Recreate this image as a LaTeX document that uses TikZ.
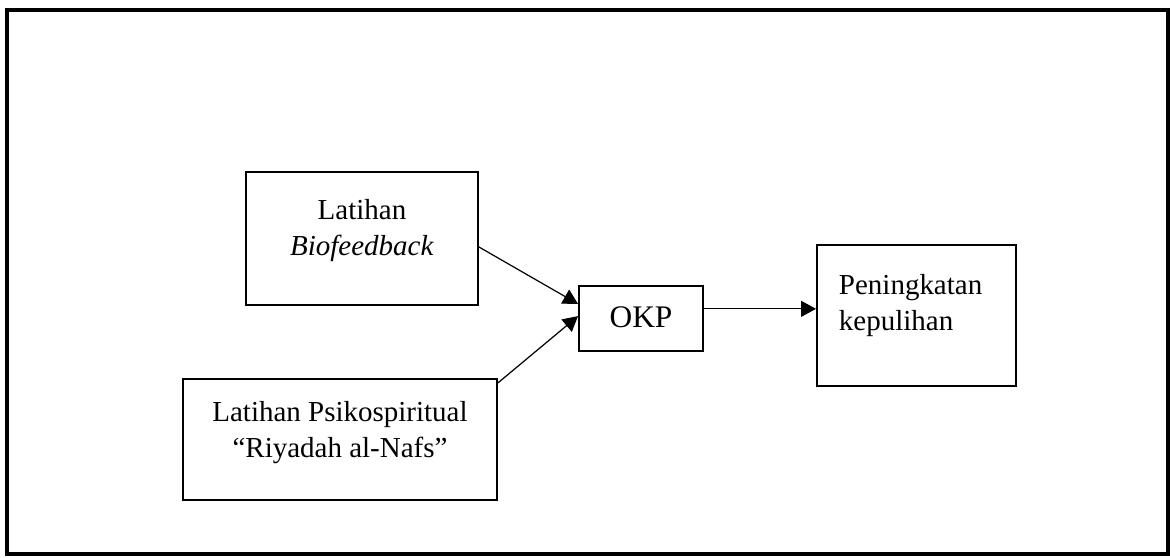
\documentclass[tikz,border=0pt]{standalone}
\usepackage{fontspec}
\setmainfont{Liberation Serif}
\usetikzlibrary{arrows.meta}

\begin{document}
\begin{tikzpicture}[
    x=0.414pt,
    y=-0.414pt,
    box/.style={rectangle, draw, line width=0.8pt, inner sep=0pt, align=center, font=\fontsize{12}{14.9}\selectfont},
    arrow/.style={-{Triangle[length=6.2pt, width=6.6pt]}, line width=0.5pt}
]
    \useasboundingbox (0,0) rectangle (1170,557);
    % Frame
    \draw[line width=1.5pt] (7,10) rectangle (1168,554);

    % Inputs
    \node[box, minimum width=96pt, text height=34.4pt, text depth=20.7pt] (bio) at (362,238.5) {Latihan\\\textit{Biofeedback}};
    \node[box, minimum width=130pt, text height=32.3pt, text depth=17.8pt] (psi) at (340,439.5) {Latihan Psikospiritual\\“Riyadah al-Nafs”};

    % Outcome
    \node[box, minimum width=51.3pt, text height=17pt, text depth=9.9pt, font=\fontsize{13}{15.5}\selectfont] (okp) at (641,318.5) {OKP};
    \node[box, align=left, inner xsep=9.1pt, text width=64.2pt, text height=20.7pt, text depth=37.7pt] (rec) at (916.5,315.5) {Peningkatan\\kepulihan};

    % Arrows
    \draw[arrow] ([yshift=-3.5pt]bio.east) -- ([yshift=6pt]okp.west);
    \draw[arrow] ([yshift=-2pt]psi.north east) -- ([yshift=1pt]okp.west);
    \draw[arrow] ([yshift=4pt]okp.east) -- ([yshift=4pt]okp.east -| rec.west);
\end{tikzpicture}
\end{document}
